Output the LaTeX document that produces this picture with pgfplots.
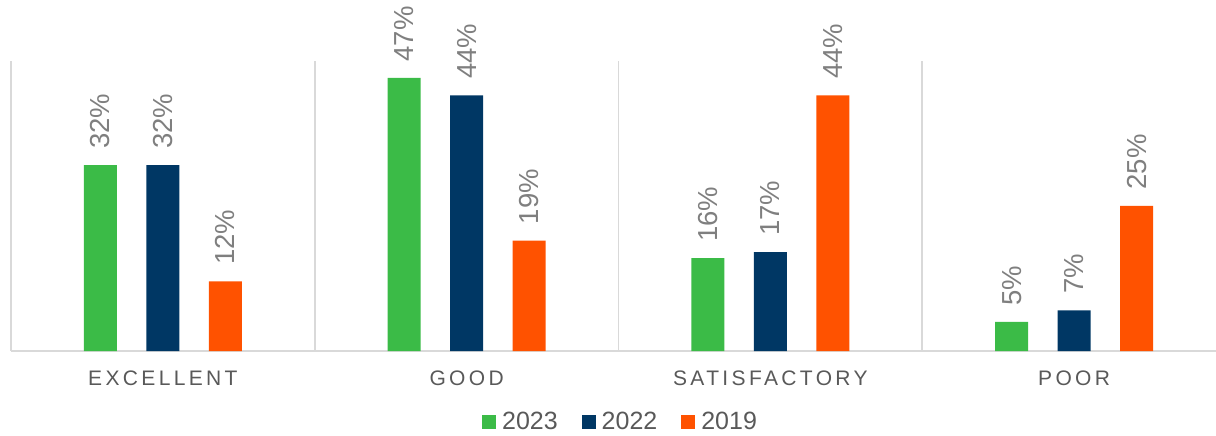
\documentclass[border=0pt]{standalone}
\usepackage{fontspec}
\setmainfont{Liberation Sans}
\newfontfamily\spaced[LetterSpace=16]{Liberation Sans}
\usepackage{pgfplots}
\pgfplotsset{compat=1.18}
\definecolor{cgreen}{HTML}{3BBB47}
\definecolor{cnavy}{HTML}{003764}
\definecolor{corange}{HTML}{FF5200}
\definecolor{labgray}{HTML}{7F7F7F}
\definecolor{txtgray}{HTML}{595959}
\definecolor{linegray}{HTML}{D9D9D9}
\begin{document}
\begin{tikzpicture}
\begin{axis}[
  at={(0,0)}, anchor=south west,
  scale only axis,
  width=602.5pt, height=145.25pt,
  xmin=-0.5, xmax=3.467,
  ymin=0, ymax=50,
  clip=false,
  /pgf/number format/assume math mode=true,
  axis x line*=bottom,
  axis y line=none,
  x axis line style={linegray, line width=0.8pt},
  xtick={0,1,2,3},
  xticklabels={EXCELLENT,GOOD,SATISFACTORY,POOR},
  xtick style={draw=none},
  xticklabel style={font=\spaced\fontsize{10.5}{12}\selectfont, text=txtgray, anchor=north, inner sep=0pt, yshift=-5.5pt},
  minor xtick={-0.5,0.5,1.5,2.5},
  minor tick length=0pt,
  xminorgrids,
  minor grid style={linegray, line width=0.8pt},
  ytick=\empty,
  ybar,
  bar width=16.5pt,
  nodes near coords={\pgfmathprintnumber{\pgfplotspointmeta}\%},
  every node near coord/.append style={rotate=90, anchor=west, inner sep=0pt, inner xsep=8pt, font=\fontsize{13.75}{15}\selectfont, text=labgray},
  legend style={at={(0.505,-0.2444)}, anchor=center, draw=none, fill=none,
    font=\fontsize{12.5}{14}\selectfont, text=txtgray,
    nodes={inner sep=0pt},
    /tikz/every odd column/.append style={column sep=3pt},
    /tikz/every even column/.append style={column sep=12pt}},
  legend columns=3,
  legend image code/.code={\fill[#1] (0pt,-3.5pt) rectangle (7pt,3.5pt);},
]
\addplot[fill=cgreen, draw=none, bar shift=-31.25pt] coordinates {(0,32) (1,47) (2,16) (3,5)};
\addplot[fill=cnavy, draw=none, bar shift=0pt] coordinates {(0,32) (1,44) (2,17) (3,7)};
\addplot[fill=corange, draw=none, bar shift=31.25pt] coordinates {(0,12) (1,19) (2,44) (3,25)};
\legend{2023,2022,2019}
\end{axis}
\pgfresetboundingbox
\path[use as bounding box] (-5.5pt,-42pt) rectangle (602.5pt,175.5pt);
\end{tikzpicture}
\end{document}
